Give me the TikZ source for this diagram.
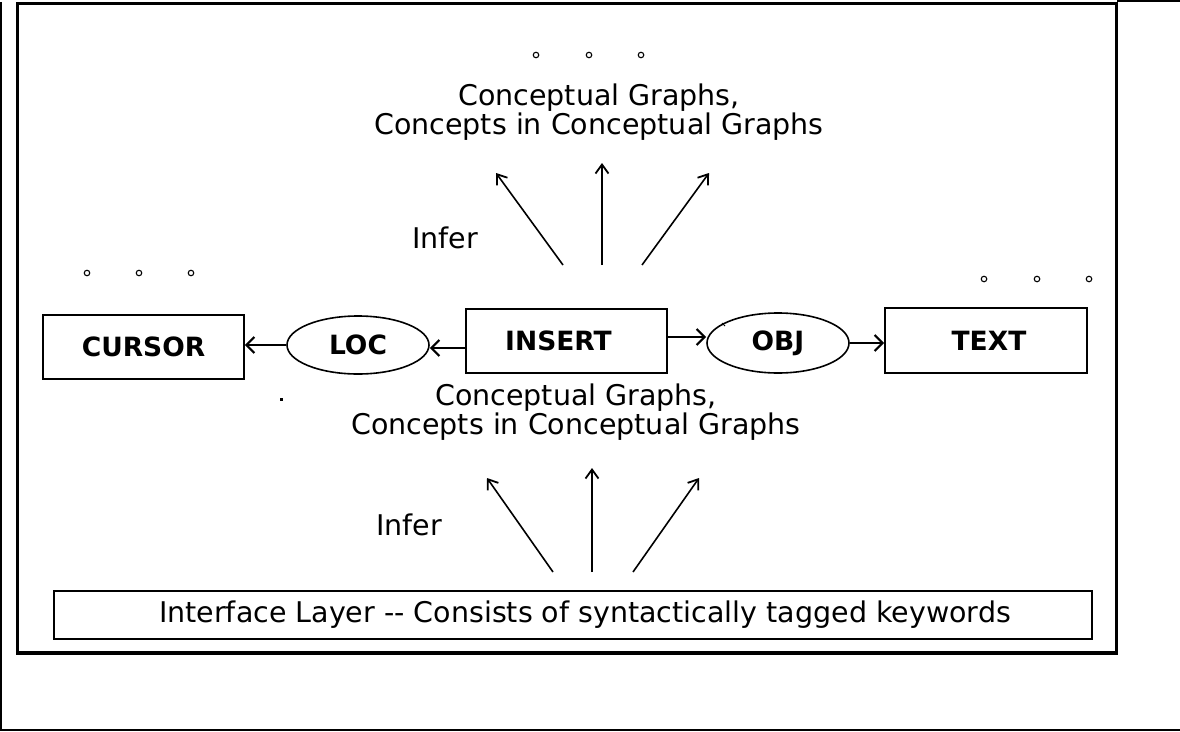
\documentclass[tikz,border=0pt]{standalone}
\usepackage{fontspec}
\setmainfont{DejaVu Sans}
\usetikzlibrary{shapes.geometric,arrows.meta}
\begin{document}
\begin{tikzpicture}[x=1pt,y=-1pt,
  box/.style={draw,line width=1.6pt,inner sep=0pt,minimum width=201pt,minimum height=64pt,font=\fontsize{26.5}{28}\selectfont\bfseries},
  rel/.style={draw,ellipse,line width=1.6pt,inner sep=0pt,minimum width=142pt,minimum height=58pt,font=\fontsize{26.5}{28}\selectfont\bfseries},
  lbl/.style={font=\fontsize{28.5}{29}\selectfont,align=center,inner sep=0pt},
  harr/.style={line width=2.6pt,-{Straight Barb[length=8pt,width=16pt,line width=2.2pt]}},
  varr/.style={line width=1.6pt,-{Straight Barb[length=9pt,width=13pt,line width=1.8pt]}},
  dotc/.style={circle,draw,line width=1.1pt,inner sep=0pt,minimum size=5.5pt}
]
\useasboundingbox (0,0) rectangle (1180,731);
% outer frame
\draw[line width=2pt] (1,2) -- (1,730) -- (1180,730);
\draw[line width=1.5pt] (1117,0.8) -- (1180,0.8);
% inner frame
\draw[line width=3.5pt] (17.5,3.5) rectangle (1116.5,653);

% small circles
\foreach \x/\n in {536/a,589/b,641/c} \node[dotc] (t\n) at (\x,55) {};
\foreach \x/\n in {87/a,139/b,191/c} \node[dotc] (l\n) at (\x,273) {};
\foreach \x/\n in {984/a,1037/b,1089/c} \node[dotc] (r\n) at (\x,279) {};

% top labels
\node[lbl] (cgtop) at (599,112) {Conceptual Graphs,\\Concepts in Conceptual Graphs};
\node[lbl] (infertop) at (445,238) {Infer};
\coordinate (ua1) at (563,265); \coordinate (ub1) at (496,173);
\coordinate (ua2) at (602,265); \coordinate (ub2) at (602,163);
\coordinate (ua3) at (642,265); \coordinate (ub3) at (709,173);
\foreach \i in {1,2,3} \draw[varr] (ua\i) -- (ub\i);

% main row
\node[box] (cursor) at (143.5,347) {CURSOR};
\node[rel] (loc) at (358,345) {LOC};
\node[box] (insert) at (566.5,341) {INSERT\hspace*{16pt}};
\node[rel,minimum height=60pt] (obj) at (778,343) {OBJ};
\node[box,minimum width=202pt,minimum height=65pt] (text) at (986,340.5) {\hspace*{6pt}TEXT};

\draw[harr] (loc.west) -- (loc.west -| cursor.east);
\draw[harr] (insert.west |- 0,348) -- (loc.east |- 0,348);
\coordinate (io) at ([yshift=4pt]insert.east);
\draw[harr] (io) -- (io -| obj.west);
\draw[harr] (obj.east) -- (obj.east -| text.west);

% small marks
\fill (280,398) rectangle (282.5,400.5);
\draw[line width=0.9pt] (722,323) -- (725,326);

% bottom labels
\node[lbl] (cgbot) at (576,412) {Conceptual Graphs,\\Concepts in Conceptual Graphs};
\node[lbl] (inferbot) at (409,525) {Infer};
\coordinate (da1) at (553,572); \coordinate (db1) at (487,478);
\coordinate (da2) at (592,572); \coordinate (db2) at (592,468);
\coordinate (da3) at (633,572); \coordinate (db3) at (699,478);
\foreach \i in {1,2,3} \draw[varr] (da\i) -- (db\i);

% interface layer
\node[draw,line width=1.6pt,minimum width=1038pt,minimum height=48pt,inner sep=0pt,font=\fontsize{28.5}{29}\selectfont] (iface) at (573,615) {\hspace*{24pt}Interface Layer -{}- Consists of syntactically tagged keywords};
\end{tikzpicture}
\end{document}
